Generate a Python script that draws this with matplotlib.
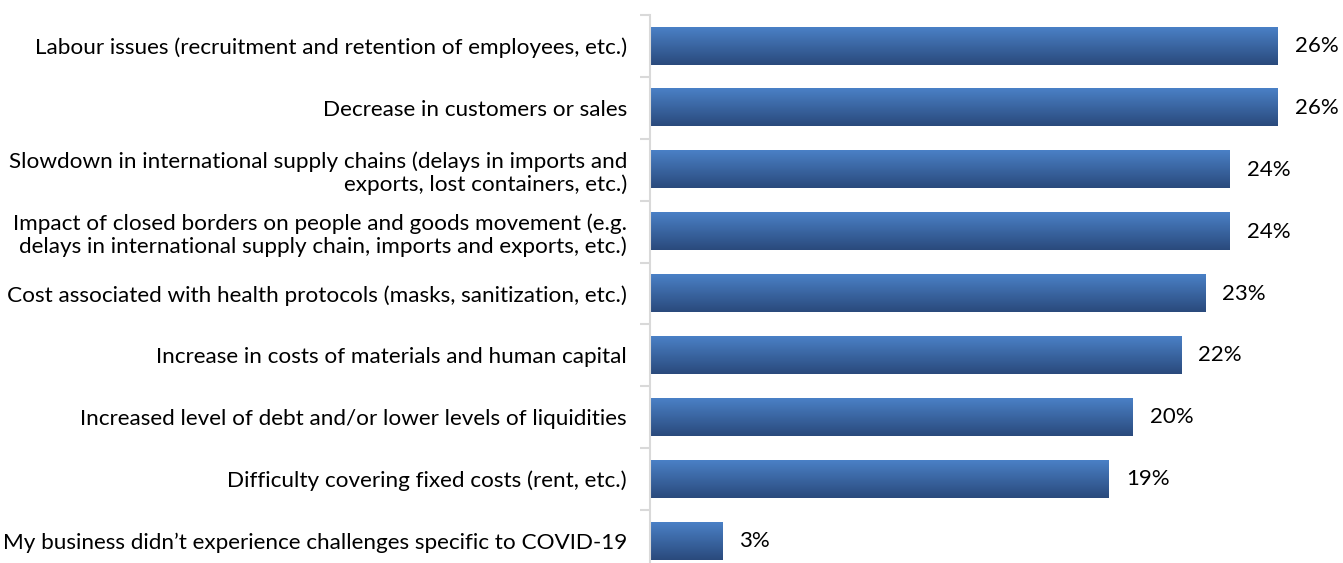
import numpy as np
import matplotlib
matplotlib.use("Agg")
from matplotlib import pyplot as plt
from matplotlib.colors import LinearSegmentedColormap

# Challenges reported by businesses, share of respondents (%)
categories = [
    "Labour issues (recruitment and retention of employees, etc.)",
    "Decrease in customers or sales",
    "Slowdown in international supply chains (delays in imports and\nexports, lost containers, etc.)",
    "Impact of closed borders on people and goods movement (e.g.\ndelays in international supply chain, imports and exports, etc.)",
    "Cost associated with health protocols (masks, sanitization, etc.)",
    "Increase in costs of materials and human capital",
    "Increased level of debt and/or lower levels of liquidities",
    "Difficulty covering fixed costs (rent, etc.)",
    "My business didn\u2019t experience challenges specific to COVID-19",
]
values = [26, 26, 24, 24, 23, 22, 20, 19, 3]

plt.rcParams["font.family"] = ["Lato", "DejaVu Sans"]

fig = plt.figure(figsize=(13.43, 5.63), dpi=100)
ax = fig.add_axes([650 / 1343, -9 / 563, 693 / 1343, 557 / 563])

n = len(values)
y = np.arange(n)
bar_h = 0.6

# vertical gradient inside each bar: light blue on top, dark navy at the bottom
grad = LinearSegmentedColormap.from_list("bar", ["#4a80c6", "#2a4a7c"])
g = np.linspace(0, 1, 64).reshape(-1, 1)
for yi, v in zip(y, values):
    ax.imshow(g, cmap=grad, aspect="auto", interpolation="bicubic",
              extent=(0, v, yi + bar_h / 2, yi - bar_h / 2), zorder=2)
    ax.text(v + 0.7, yi, f"{v}%", va="center", ha="left", fontsize=16, color="#000000")

ax.set_xlim(0, 693 / 24.15)
ax.set_ylim(n - 0.5, -0.5)

ax.set_yticks(y)
ax.set_yticklabels(categories, fontsize=16.2, color="#000000", linespacing=1.15)
ax.set_yticks(np.arange(n + 1) - 0.5, minor=True)
ax.tick_params(axis="y", which="major", length=0, pad=16.5)
ax.tick_params(axis="y", which="minor", length=7, width=1.5, color="#d9d9d9")
ax.set_xticks([])

for s in ["top", "right", "bottom"]:
    ax.spines[s].set_visible(False)
ax.spines["left"].set_color("#d9d9d9")
ax.spines["left"].set_linewidth(1.5)

fig.savefig("out.png", dpi=100)
